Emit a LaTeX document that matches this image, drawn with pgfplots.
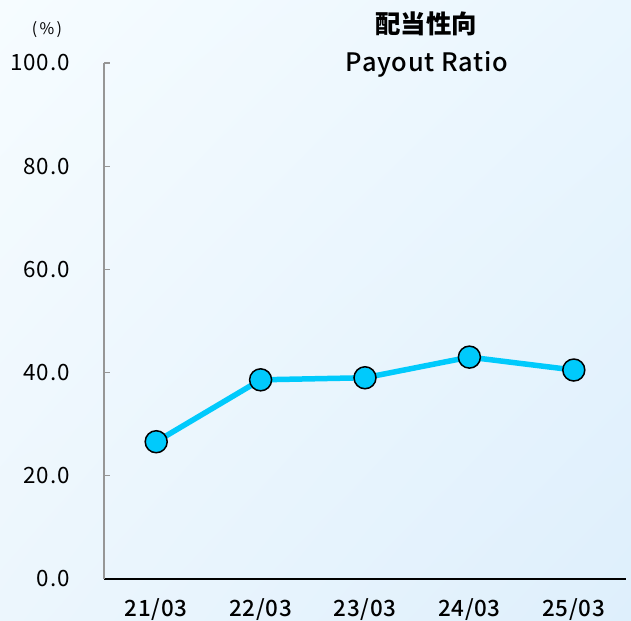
\documentclass[border=0pt]{standalone}
\usepackage{fontspec}
\usepackage{pgfplots}
\pgfplotsset{compat=1.18}
\usetikzlibrary{shadings}
\setmainfont{Noto Sans CJK JP}
\newfontfamily\tickfont[LetterSpace=4]{Noto Sans CJK JP}
\newfontfamily\medfont[LetterSpace=3]{Noto Sans CJK JP Medium}
\newfontfamily\pctfont[LetterSpace=15]{Noto Sans CJK JP}
\definecolor{linec}{RGB}{0,202,252}
\definecolor{bgTL}{RGB}{246,252,255}
\definecolor{bgTR}{RGB}{234,246,254}
\definecolor{bgBL}{RGB}{236,246,253}
\definecolor{bgBR}{RGB}{222,239,252}
\definecolor{axgray}{RGB}{150,150,150}
\begin{document}
\begin{tikzpicture}
\useasboundingbox (0,0) rectangle (631bp,621bp);
\shade[upper left=bgTL, upper right=bgTR, lower left=bgBL, lower right=bgBR] (0,0) rectangle (631bp,621bp);
\begin{axis}[
  at={(104bp,42bp)}, anchor=south west,
  width=522bp, height=516bp, scale only axis,
  xmin=-0.5, xmax=4.5, ymin=0, ymax=100,
  enlargelimits=false, clip=false,
  axis lines*=left,
  x axis line style={black, line width=1.3bp},
  y axis line style={axgray, line width=1.1bp},
  xtick={0,1,2,3,4},
  xticklabels={21/03,22/03,23/03,24/03,25/03},
  x tick style={draw=none},
  minor xtick={-0.5,0.5,1.5,2.5,3.5,4.5},
  minor x tick style={black, line width=1.3bp},
  minor tick length=6bp,
  ytick={0,20,40,60,80,100},
  yticklabels={0.0,20.0,40.0,60.0,80.0,100.0},
  y tick style={axgray, line width=1.1bp},
  major tick length=6bp,
  tick align=inside,
  x tick label style={font=\medfont\fontsize{22.5}{24}\selectfont, inner sep=0pt, anchor=north, yshift=-19bp},
  y tick label style={font=\tickfont\fontsize{22.5}{24}\selectfont, inner sep=0pt, anchor=east, xshift=-34bp},
]
\addplot[linec, line width=5.5bp, mark=*, mark size=11bp,
  mark options={fill=linec, draw=black, line width=1.5bp}]
  coordinates {(0,26.6) (1,38.6) (2,39.0) (3,43.0) (4,40.5)};
\end{axis}
\node at (426bp,597bp) {\fontsize{25.5}{27}\selectfont\bfseries 配当性向};
\node at (427bp,557bp) {\medfont\fontsize{25.5}{27}\selectfont Payout Ratio};
\node at (47bp,591bp) {\pctfont\fontsize{16}{18}\selectfont (\%)};
\end{tikzpicture}
\end{document}
